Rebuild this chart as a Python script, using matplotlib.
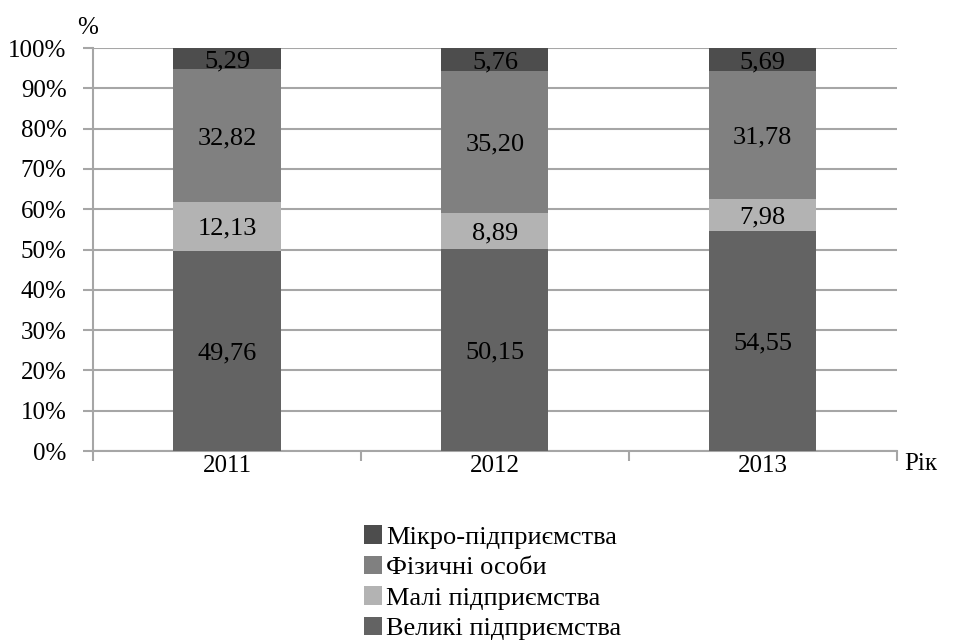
import matplotlib
matplotlib.use("Agg")
import matplotlib.pyplot as plt
import numpy as np

years = ["2011", "2012", "2013"]
series_names = ["Великі підприємства", "Малі підприємства", "Фізичні особи", "Мікро-підприємства"]
large = [49.76, 50.15, 54.55]
small = [12.13, 8.89, 7.98]
persons = [32.82, 35.20, 31.78]
micro = [5.29, 5.76, 5.69]
yticks = [0, 10, 20, 30, 40, 50, 60, 70, 80, 90, 100]

colors = ["#636363", "#b3b3b3", "#808080", "#4d4d4d"]
grid_color = "#a6a6a6"
FS = 19
TICK_FS = 18

plt.rcParams["font.family"] = ["Liberation Serif", "DejaVu Serif"]

fig = plt.figure(figsize=(9.55, 6.41), dpi=100)
ax = fig.add_axes([0.0974, 0.2964, 0.8416, 0.6286])

x = np.arange(len(years))
bottom = np.zeros(len(years))
handles = []
for name, vals, col in zip(series_names, [large, small, persons, micro], colors):
    vals = np.array(vals)
    b = ax.bar(x, vals, width=0.4, bottom=bottom, color=col, label=name, zorder=3)
    handles.append(b)
    for xi, v, b0 in zip(x, vals, bottom):
        ax.text(xi, b0 + v / 2, f"{v:.2f}".replace(".", ","), ha="center", va="center_baseline",
                fontsize=FS, color="black", zorder=4)
    bottom += vals

ax.set_xlim(-0.5, len(years) - 0.5)
ax.set_ylim(0, 100)
ax.set_yticks(yticks)
ax.set_yticklabels([f"{t}%" for t in yticks], fontsize=TICK_FS)
ax.yaxis.grid(True, color=grid_color, linewidth=1.5, zorder=0)
ax.set_axisbelow(True)

# category labels centred, tick marks on category boundaries
ax.set_xticks(x)
ax.set_xticklabels(years, fontsize=TICK_FS)
ax.tick_params(axis="x", length=0, pad=3)
ax.set_xticks(np.arange(len(years) + 1) - 0.5, minor=True)
ax.tick_params(axis="x", which="minor", length=7, width=1.5, color=grid_color, direction="out")
ax.tick_params(axis="y", length=7, width=1.5, color=grid_color, direction="out", pad=12)

for side in ["top", "right"]:
    ax.spines[side].set_visible(False)
for side in ["left", "bottom"]:
    ax.spines[side].set_color(grid_color)
    ax.spines[side].set_linewidth(1.5)

fig.text(88 / 955, 1 - 28 / 641, "%", fontsize=TICK_FS, ha="center", va="center")
fig.text(921 / 955, 1 - 464 / 641, "Рік", fontsize=TICK_FS, ha="center", va="center")

leg = fig.legend(handles[::-1], series_names[::-1], loc="center", bbox_to_anchor=(0.516, 0.091),
                 frameon=False, fontsize=FS, handlelength=0.7, handleheight=0.7,
                 handletextpad=0.15, labelspacing=0.27)

fig.savefig("out.png", dpi=100)
